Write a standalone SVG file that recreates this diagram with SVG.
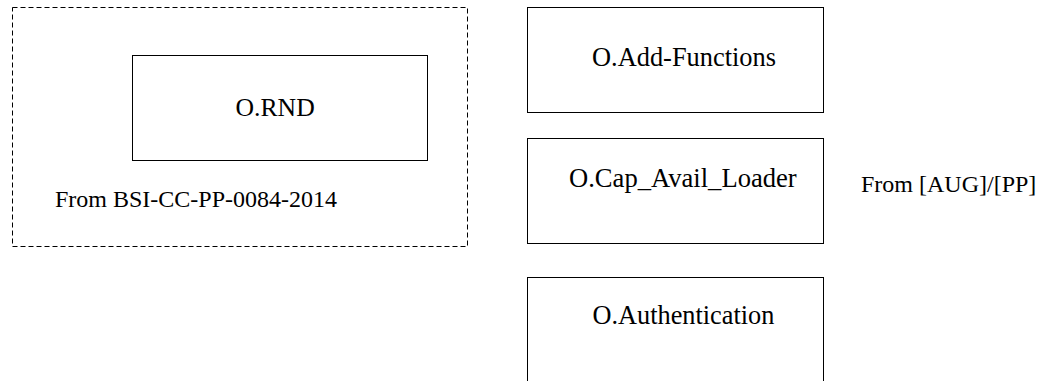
<svg xmlns="http://www.w3.org/2000/svg" width="1041" height="381" viewBox="0 0 1041 381">
<style>
.box{fill:none;stroke:#000;stroke-width:1}
.grp{fill:none;stroke:#000;stroke-width:1;stroke-dasharray:5 3}
text{font-family:"Liberation Serif","Times New Roman",serif;font-size:24px;fill:#000}
</style>
<rect width="1041" height="381" fill="#fff"/>
<g id="group-bsi">
<rect class="grp" x="12.5" y="7.5" width="455" height="239"/>
<text x="55" y="207">From BSI-CC-PP-0084-2014</text>
</g>
<g id="node-rnd">
<rect class="box" x="132.5" y="55.5" width="295" height="105"/>
<text x="235.5" y="116" style="font-size:25.7px">O.RND</text>
</g>
<g id="node-add-functions">
<rect class="box" x="527.5" y="7.5" width="296" height="105"/>
<text x="592" y="66" style="font-size:26.4px">O.Add-Functions</text>
</g>
<g id="node-cap-avail-loader">
<rect class="box" x="527.5" y="138.5" width="296" height="105"/>
<text x="569" y="187" style="font-size:26.6px">O.Cap_Avail_Loader</text>
</g>
<g id="node-authentication">
<rect class="box" x="527.5" y="277.5" width="296" height="110"/>
<text x="592.5" y="324" style="font-size:26.3px">O.Authentication</text>
</g>
<g id="label-aug">
<text x="861" y="192">From [AUG]/[PP]</text>
</g>
<g id="connectors"></g>
</svg>
